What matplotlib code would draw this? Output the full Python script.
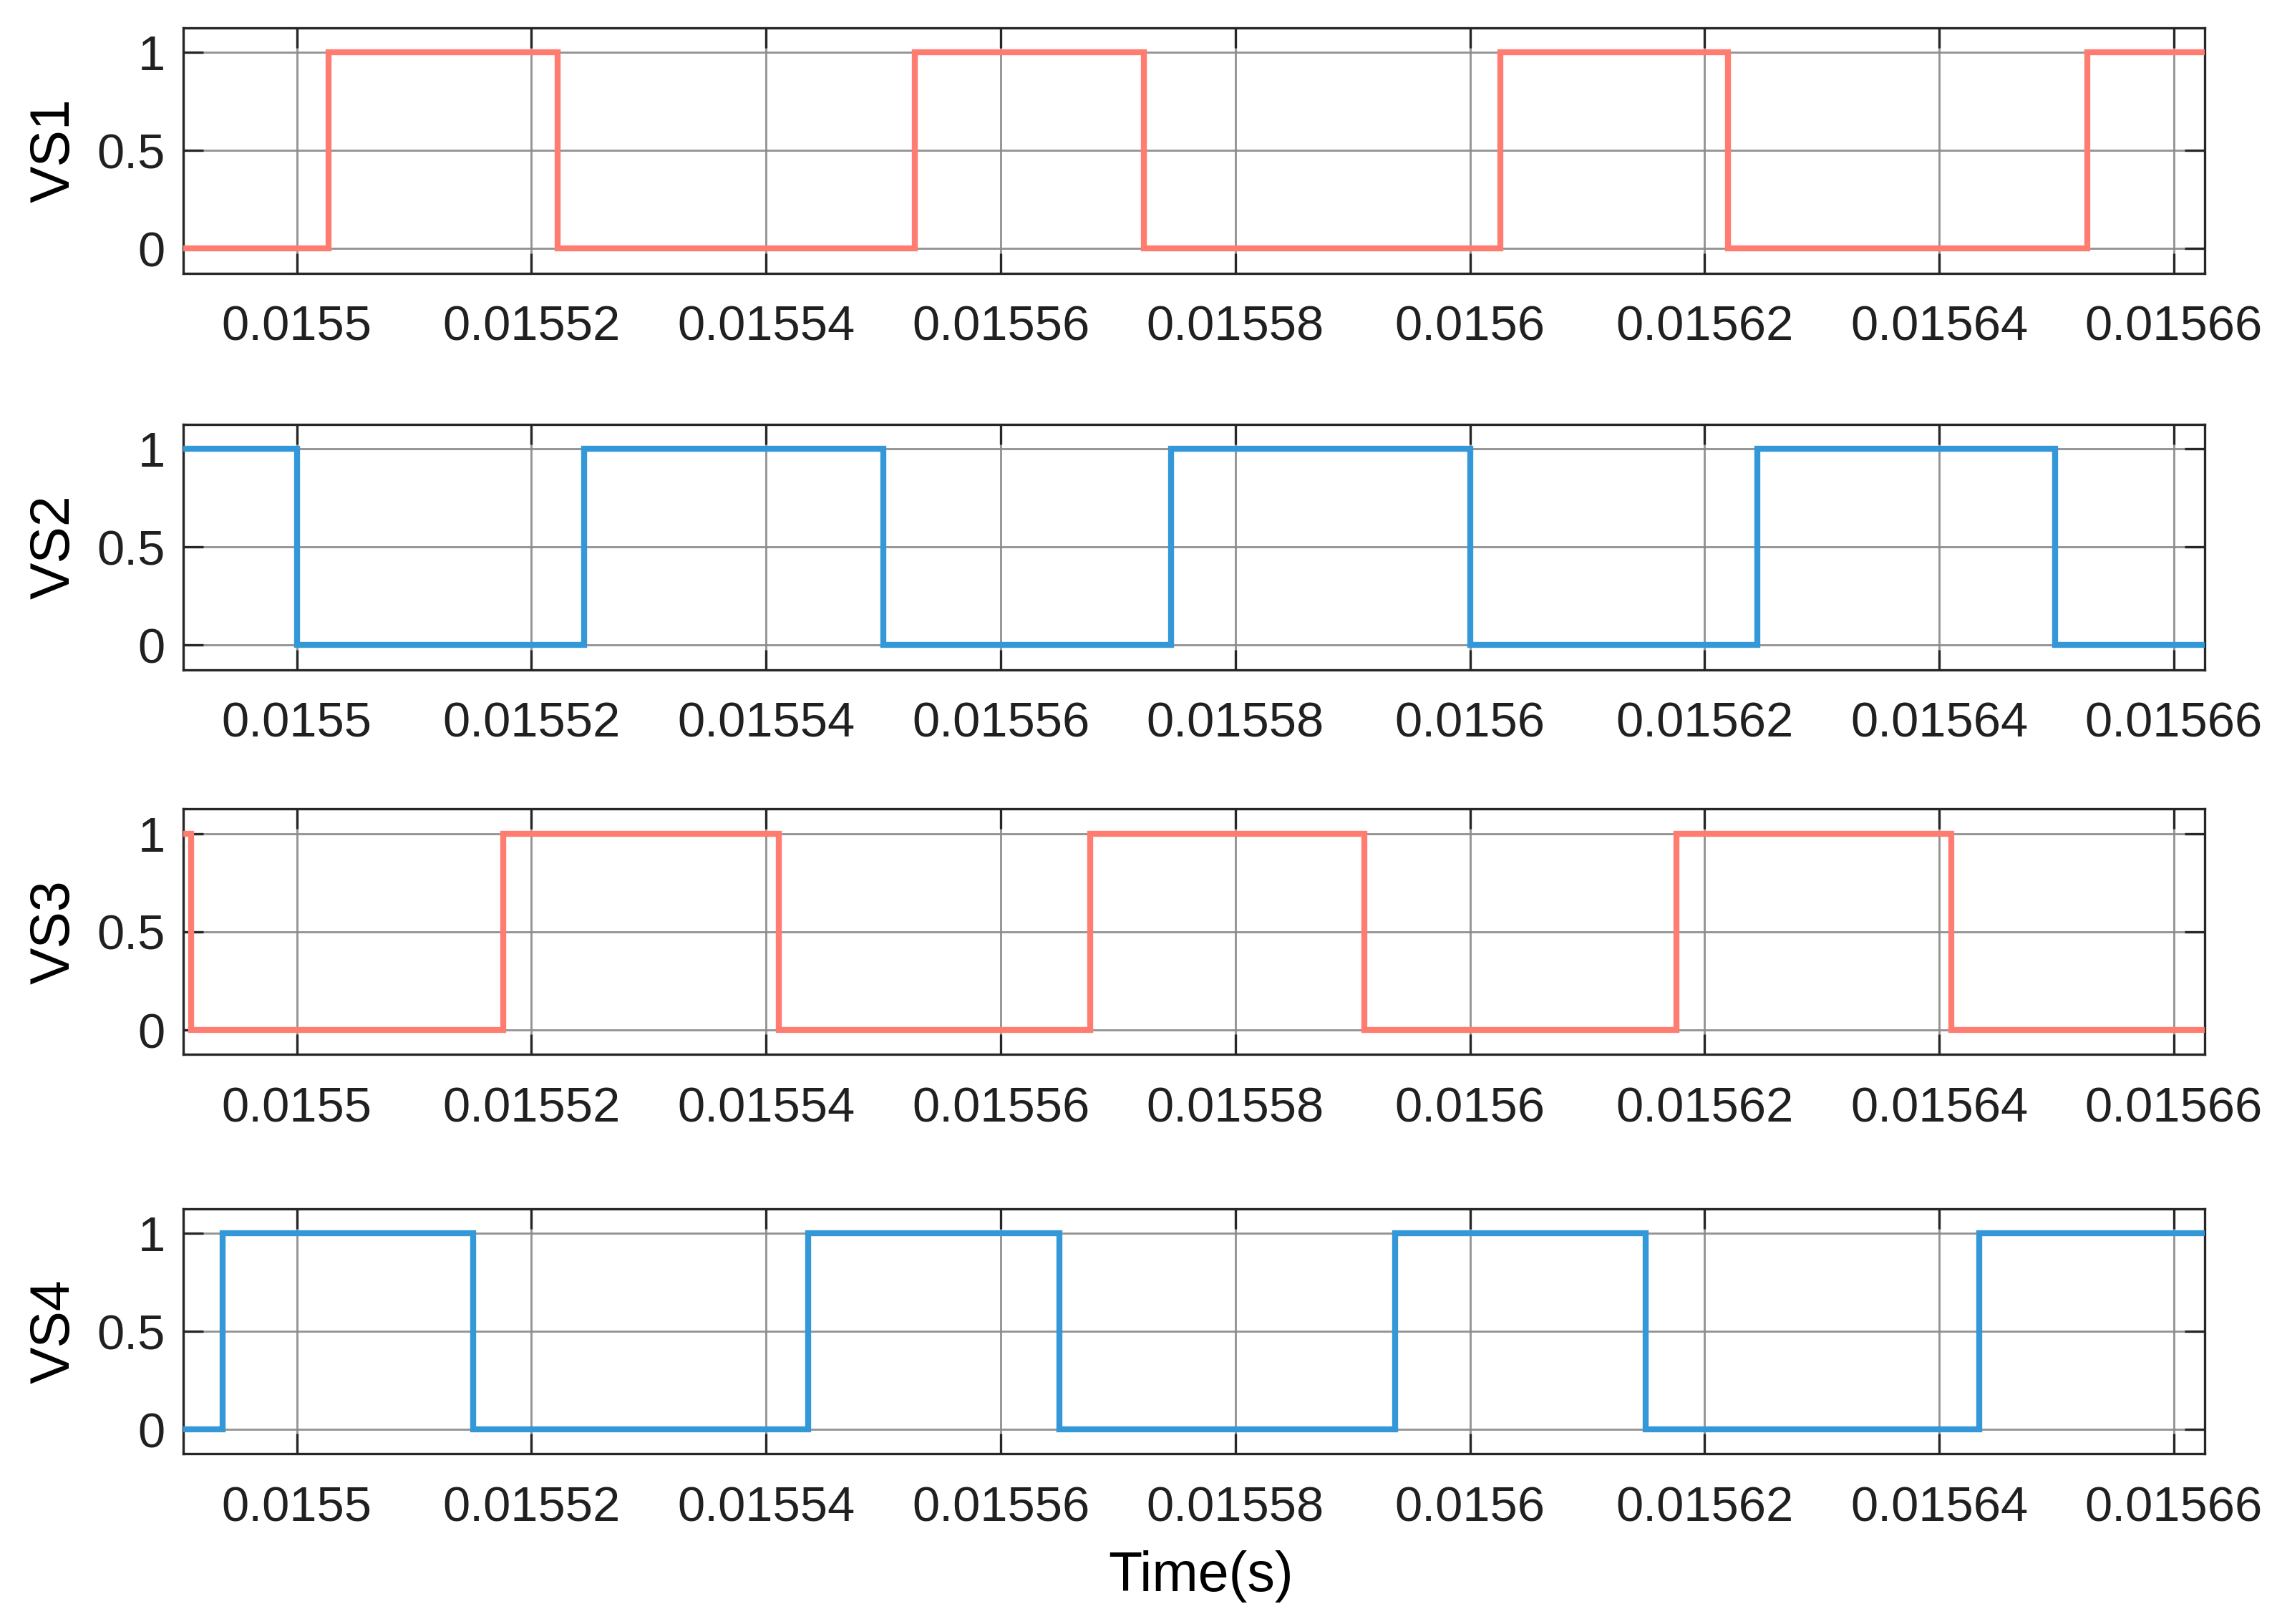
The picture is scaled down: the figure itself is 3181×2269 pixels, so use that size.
import matplotlib
matplotlib.use("Agg")
import matplotlib.pyplot as plt

plt.rcParams['font.family'] = ['Liberation Sans', 'DejaVu Sans']

# ---- data ----
x_start = 0.0154903
x_end = 0.0156626

t_vs1 = [x_start, 0.0155027, 0.0155222, 0.0155527, 0.0155722, 0.0156026, 0.0156220, 0.0156526, x_end]
v_vs1 = [0, 1, 0, 1, 0, 1, 0, 1, 1]

t_vs2 = [x_start, 0.0155000, 0.0155245, 0.0155500, 0.0155745, 0.0156000, 0.0156245, 0.0156499, x_end]
v_vs2 = [1, 0, 1, 0, 1, 0, 1, 0, 0]

t_vs3 = [x_start, 0.0154910, 0.0155176, 0.0155411, 0.0155676, 0.0155910, 0.0156176, 0.0156410, x_end]
v_vs3 = [1, 0, 1, 0, 1, 0, 1, 0, 0]

t_vs4 = [x_start, 0.0154937, 0.0155150, 0.0155436, 0.0155650, 0.0155936, 0.0156150, 0.0156434, x_end]
v_vs4 = [0, 1, 0, 1, 0, 1, 0, 1, 1]

series_names = ['VS1', 'VS2', 'VS3', 'VS4']
series_t = [t_vs1, t_vs2, t_vs3, t_vs4]
series_v = [v_vs1, v_vs2, v_vs3, v_vs4]
series_colors = ['#FF7C70', '#3498D8', '#FF7C70', '#3498D8']

xtick_vals = [0.0155, 0.01552, 0.01554, 0.01556, 0.01558, 0.0156, 0.01562, 0.01564, 0.01566]
xtick_labels = ['0.0155', '0.01552', '0.01554', '0.01556', '0.01558', '0.0156', '0.01562', '0.01564', '0.01566']
ytick_vals = [0, 0.5, 1]
ytick_labels = ['0', '0.5', '1']

# ---- figure ----
W, H = 3181, 2269
fig = plt.figure(figsize=(W / 300, H / 300), dpi=300)

left, right = 0.0804, 0.9681
tops = [0.983, 0.7388, 0.5018, 0.2558]
bottoms = [0.8318, 0.5877, 0.3506, 0.1047]

for i in range(4):
    ax = fig.add_axes([left, bottoms[i], right - left, tops[i] - bottoms[i]])
    ax.plot(series_t[i], series_v[i], drawstyle='steps-post',
            color=series_colors[i], lw=2.0, solid_joinstyle='miter', zorder=3)
    ax.set_xlim(x_start, x_end)
    ax.set_ylim(-0.125, 1.125)
    ax.set_xticks(xtick_vals)
    ax.set_xticklabels(xtick_labels)
    ax.set_yticks(ytick_vals)
    ax.set_yticklabels(ytick_labels)
    ax.grid(True, color='#8a8a8a', lw=0.7, alpha=0.9, zorder=0)
    ax.set_axisbelow(True)
    ax.tick_params(axis='both', direction='in', length=6.8, width=0.8,
                   top=True, right=True, labelsize=16.5, color='#262626',
                   labelcolor='#202020')
    ax.tick_params(axis='x', pad=10.5)
    ax.tick_params(axis='y', pad=6)
    for sp in ax.spines.values():
        sp.set_linewidth(0.8)
        sp.set_color('#262626')
    ax.set_ylabel(series_names[i], fontsize=18.5)
    ax.yaxis.set_label_coords(-0.0505, 0.5)

fig.text(1678 / W, 1 - 2223 / H, 'Time(s)', ha='center', va='baseline', fontsize=18.5)

fig.savefig('out.png', dpi=300)
